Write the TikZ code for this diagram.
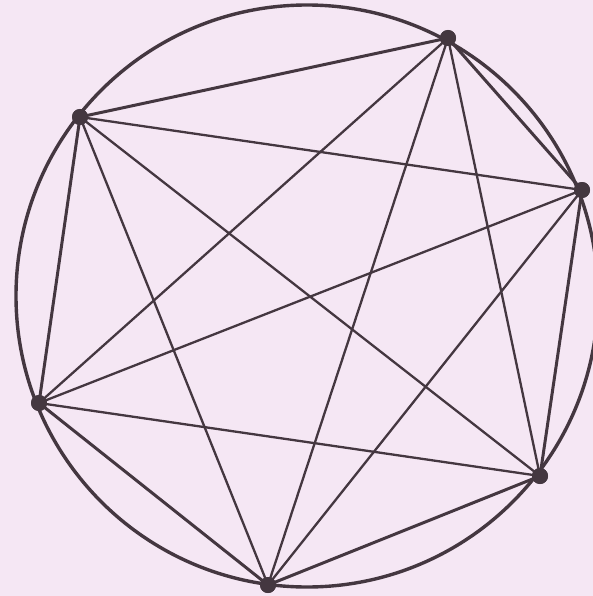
\documentclass[tikz,border=0pt]{standalone}
\definecolor{bg}{RGB}{245,231,244}
\definecolor{ink}{RGB}{68,55,64}
\begin{document}
\begin{tikzpicture}[x=1pt,y=-1pt,
  vtx/.style={circle,fill=ink,inner sep=0pt,minimum size=16pt},
  rim/.style={draw=ink,line width=3.4pt},
  side/.style={draw=ink,line width=3pt},
  chord/.style={draw=ink,line width=2.3pt}]
\fill[bg] (0,0) rectangle (593,596);
\useasboundingbox (0,0) rectangle (593,596);
\begin{scope}
\clip (0,0) rectangle (593,596);
\draw[rim] (307,296) circle (291);
\end{scope}
\node[vtx] (A) at (80,117) {};
\node[vtx] (B) at (448,38) {};
\node[vtx] (C) at (582,190) {};
\node[vtx] (D) at (540,476) {};
\node[vtx] (E) at (268,585) {};
\node[vtx] (F) at (39,403) {};
\draw[side] (A.center) -- (B.center) -- (C.center) -- (D.center) -- (E.center) -- (F.center) -- cycle;
\draw[chord] (A.center) -- (C.center);
\draw[chord] (A.center) -- (D.center);
\draw[chord] (A.center) -- (E.center);
\draw[chord] (B.center) -- (D.center);
\draw[chord] (B.center) -- (E.center);
\draw[chord] (B.center) -- (F.center);
\draw[chord] (C.center) -- (E.center);
\draw[chord] (C.center) -- (F.center);
\draw[chord] (D.center) -- (F.center);
\foreach \v in {A,B,C,D,E,F} \fill[ink] (\v) circle (8);
\end{tikzpicture}
\end{document}
